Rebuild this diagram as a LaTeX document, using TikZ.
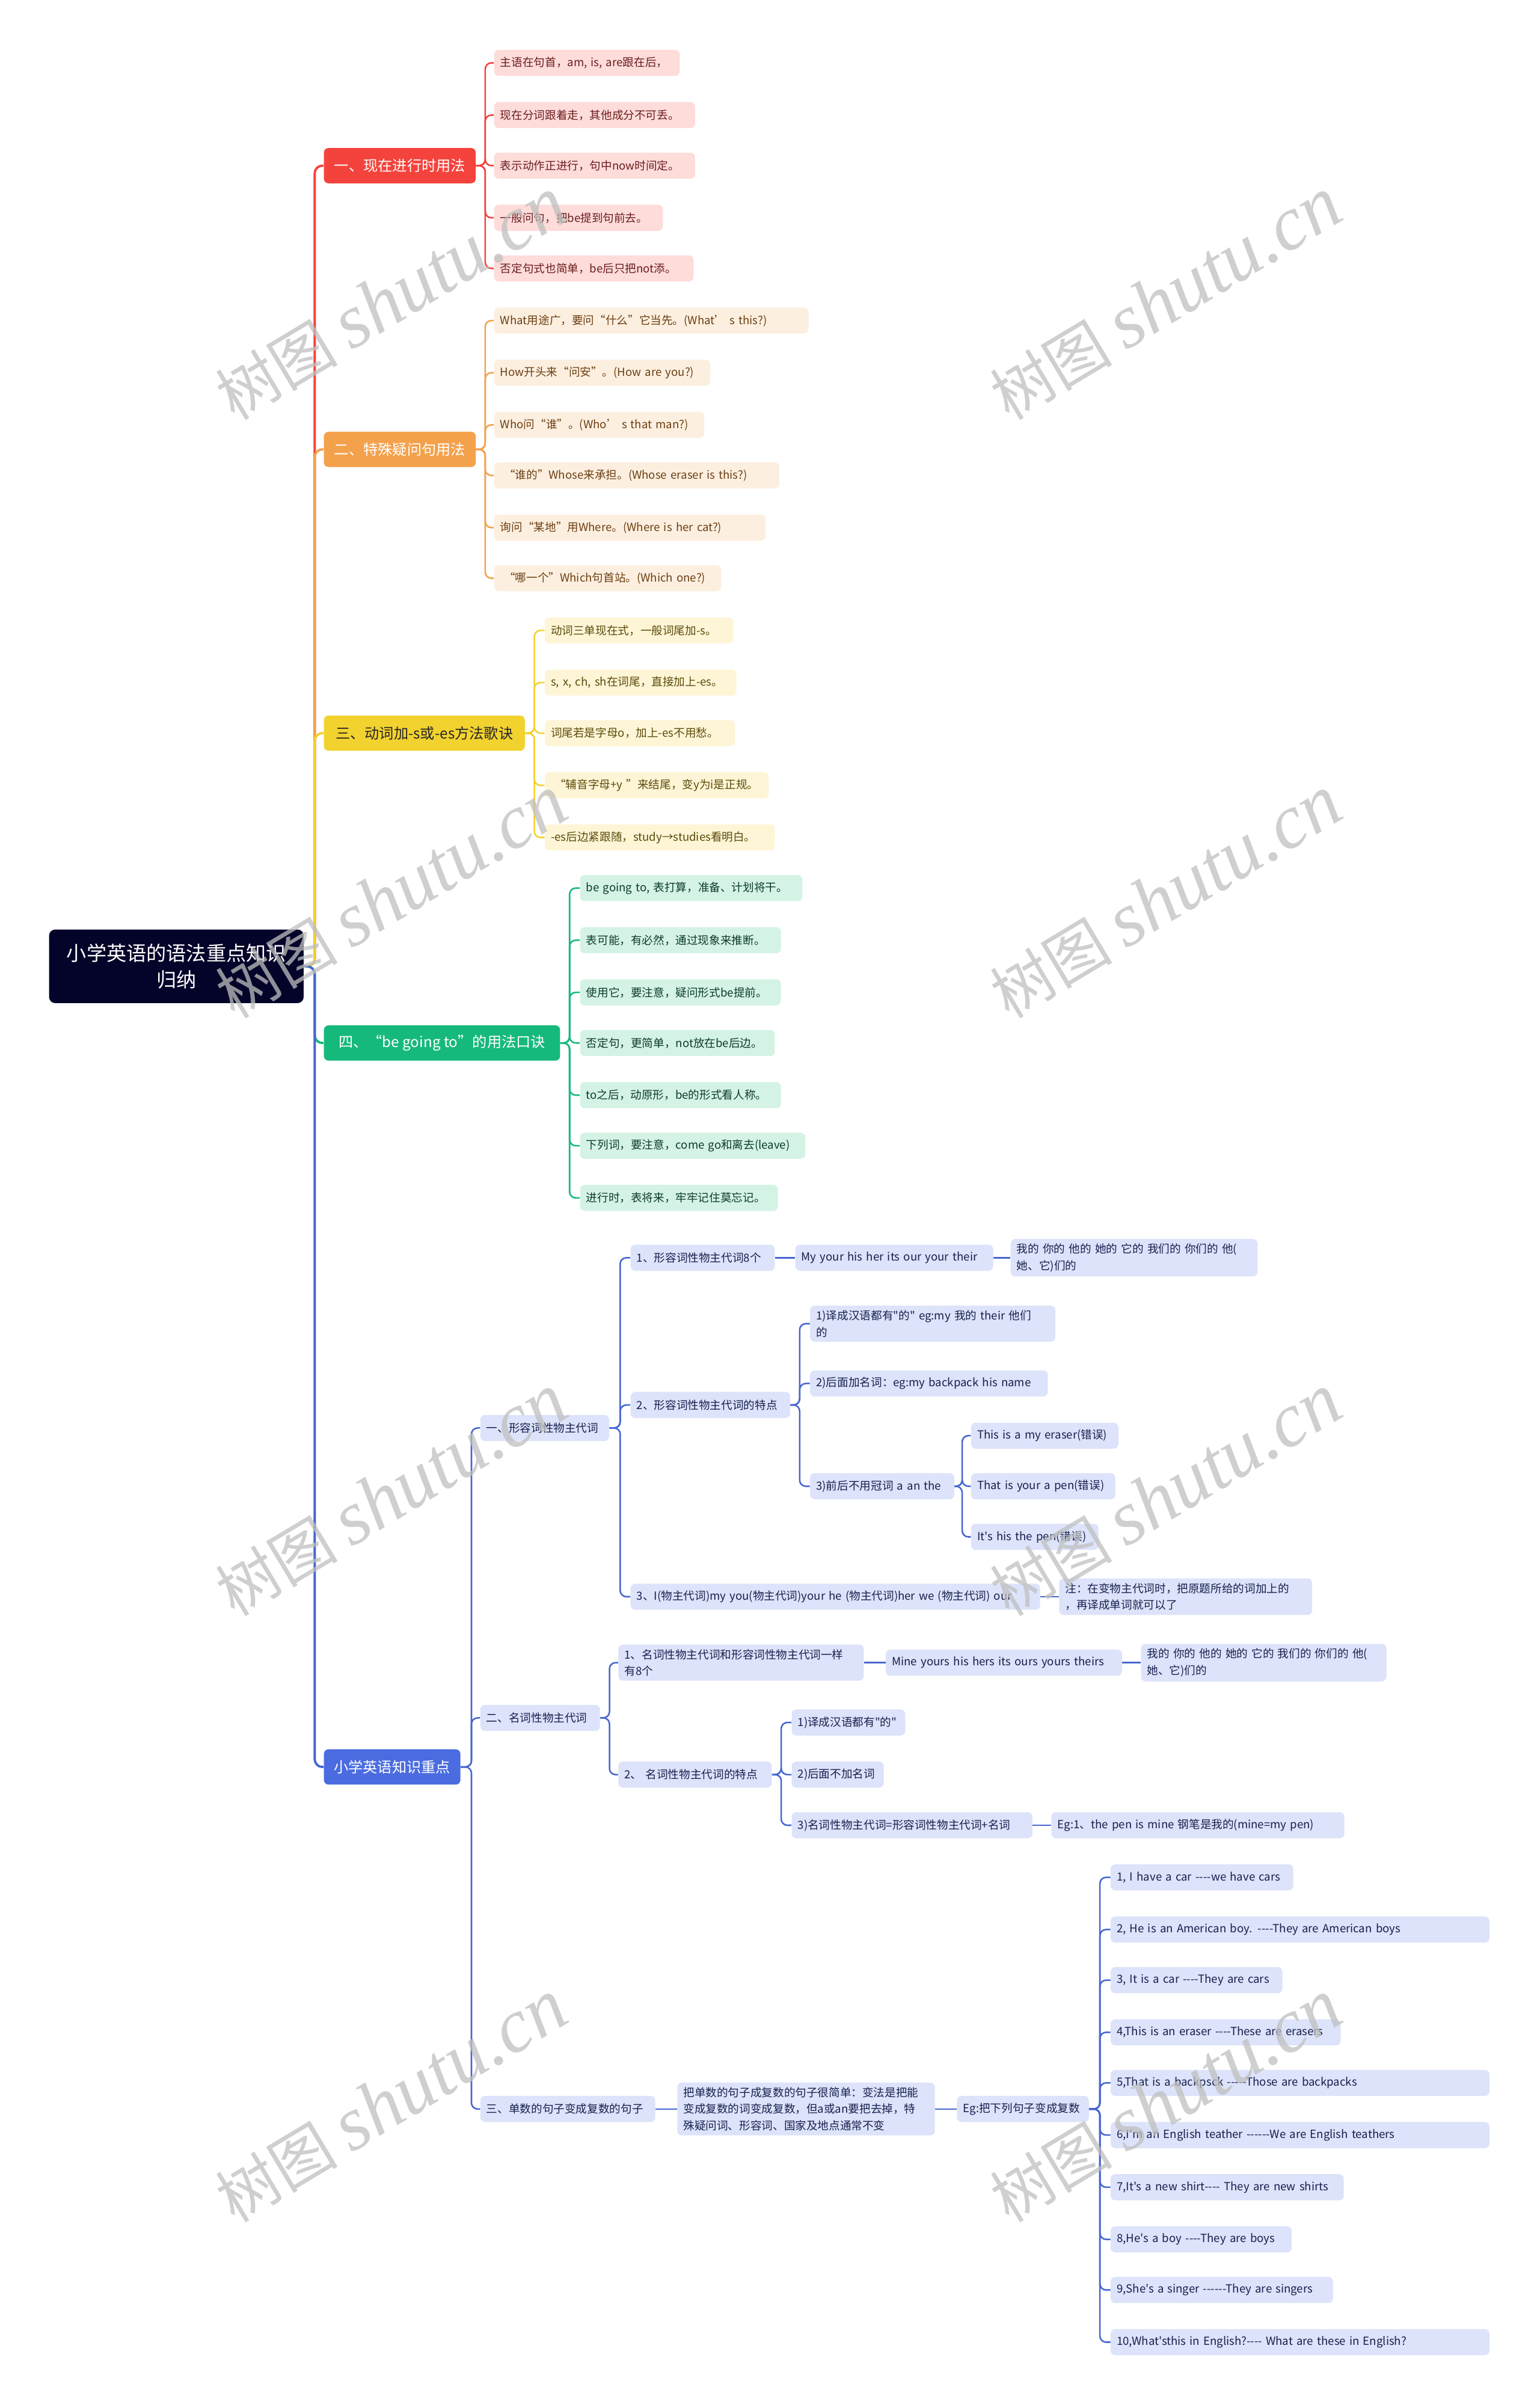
\documentclass[tikz,border=0pt]{standalone}
\usepackage{fontspec}
\setmainfont{Noto Sans CJK SC}[Ligatures=TeXOff]
\newfontfamily\wmlatin{Liberation Serif}
\usetikzlibrary{positioning}

\definecolor{rootfill}{HTML}{04042A}
\definecolor{redmain}{HTML}{F4433C}
\definecolor{redfill}{HTML}{FDDCDA}
\definecolor{redtext}{HTML}{6B1D1D}
\definecolor{orgmain}{HTML}{F4A14C}
\definecolor{orgfill}{HTML}{FDEFE0}
\definecolor{orgtext}{HTML}{6B3F12}
\definecolor{ylwmain}{HTML}{F2D22E}
\definecolor{ylwfill}{HTML}{FDF5D6}
\definecolor{ylwtext}{HTML}{5C4A0A}
\definecolor{grnmain}{HTML}{16B97C}
\definecolor{grnfill}{HTML}{D4F3E5}
\definecolor{grntext}{HTML}{0D3B2A}
\definecolor{blumain}{HTML}{4B6CE0}
\definecolor{bluline}{HTML}{4766CF}
\definecolor{blufill}{HTML}{DCE3FA}
\definecolor{blutext}{HTML}{18204D}

\begin{document}
\begin{tikzpicture}[x=1pt, y=-1pt,
    mainbox/.style={rounded corners=3pt, anchor=west, minimum height=23pt, inner xsep=5pt, font=\fontsize{9.5}{11}\selectfont},
    leaf/.style={rounded corners=3pt, anchor=west, align=left, minimum height=17pt, inner xsep=4pt, inner ysep=3pt, font=\fontsize{7.3}{10.8}\selectfont},
    redleaf/.style={leaf, fill=redfill, text=redtext},
    orgleaf/.style={leaf, fill=orgfill, text=orgtext},
    ylwleaf/.style={leaf, fill=ylwfill, text=ylwtext},
    grnleaf/.style={leaf, fill=grnfill, text=grntext},
    bluleaf/.style={leaf, fill=blufill, text=blutext},
    trunk/.style={line width=1.5pt, rounded corners=5pt},
    twig/.style={line width=1pt, rounded corners=4pt},
    bluetwig/.style={twig, draw=bluline},
    wm/.style={text=black!25, opacity=0.75, rotate=31, font=\fontsize{40}{40}\selectfont}]

    \fill[white] (0,0) rectangle (1004,1568);
    \useasboundingbox (0,0) rectangle (1004,1568);

    % Root
    \node[fill=rootfill, text=white, rounded corners=4pt, minimum width=166pt, minimum height=48pt, align=center, font=\fontsize{13}{17}\selectfont] (root) at (115,630) {小学英语的语法重点知识\\归纳};

    % Main branches
    \node[mainbox, fill=redmain, text=white, minimum width=99pt] (m1) at (211,108) {一、现在进行时用法};
    \node[mainbox, fill=orgmain, text=white, minimum width=99pt] (m2) at (211,293) {二、特殊疑问句用法};
    \node[mainbox, fill=ylwmain, text=black!85, minimum width=131pt] (m3) at (211,478) {三、动词加-s或-es方法歌诀};
    \node[mainbox, fill=grnmain, text=white, minimum width=154pt] (m4) at (211,680) {四、“be going to”的用法口诀};
    \node[mainbox, fill=blumain, text=white, minimum width=89pt] (m5) at (211,1152) {小学英语知识重点};
    \foreach \m/\c in {m1/redmain, m2/orgmain, m3/ylwmain, m4/grnmain, m5/bluline}
        \draw[trunk, draw=\c] (root.east) -- ++(7,0) |- (\m.west);

    % Present continuous
    \foreach \t/\y/\w [count=\i] in {
        {主语在句首，am, is, are跟在后，}/41/113,
        {现在分词跟着走，其他成分不可丢。}/75/123,
        {表示动作正进行，句中now时间定。}/108/123,
        {一般问句，把be提到句前去。}/142/102,
        {否定句式也简单，be后只把not添。}/175/122}
    {
        \node[redleaf, text width=\w pt] (r\i) at (322,\y) {\mbox{\t}};
        \draw[twig, draw=redmain] (m1.east) -- ++(6,0) |- (r\i.west);
    }

    % Special questions
    \foreach \t/\y/\w [count=\i] in {
        {What用途广，要问“什么”它当先。(What’ s this?)}/209/197,
        {How开头来“问安”。(How are you?)}/243/133,
        {Who问“谁”。(Who’ s that man?)}/277/129,
        { “谁的”Whose来承担。(Whose eraser is this?)}/310/178,
        {询问“某地”用Where。(Where is her cat?)}/344/169,
        { “哪一个”Which句首站。(Which one?)}/377/140}
    {
        \node[orgleaf, text width=\w pt] (o\i) at (322,\y) {\mbox{\t}};
        \draw[twig, draw=orgmain] (m2.east) -- ++(6,0) |- (o\i.west);
    }

    % -s / -es rules
    \foreach \t/\y/\w [count=\i] in {
        {动词三单现在式，一般词尾加-s。}/411/115,
        {s, x, ch, sh在词尾，直接加上-es。}/445/117,
        {词尾若是字母o，加上-es不用愁。}/478/116,
        { “辅音字母+y ”来结尾，变y为i是正规。}/512/138,
        {-es后边紧跟随，study→studies看明白。}/546/142}
    {
        \node[ylwleaf, text width=\w pt] (y\i) at (355,\y) {\mbox{\t}};
        \draw[twig, draw=ylwmain] (m3.east) -- ++(6,0) |- (y\i.west);
    }

    % be going to
    \foreach \t/\y/\w [count=\i] in {
        {be going to, 表打算，准备、计划将干。}/579/137,
        {表可能，有必然，通过现象来推断。}/613/123,
        {使用它，要注意，疑问形式be提前。}/647/123,
        {否定句，更简单，not放在be后边。}/680/119,
        {to之后，动原形，be的形式看人称。}/714/123,
        {下列词，要注意，come go和离去(leave)}/747/139,
        {进行时，表将来，牢牢记住莫忘记。}/781/121}
    {
        \node[grnleaf, text width=\w pt] (g\i) at (378,\y) {\mbox{\t}};
        \draw[twig, draw=grnmain] (m4.east) -- ++(6,0) |- (g\i.west);
    }

    % Key points
    \node[bluleaf, text width=76pt] (b1) at (313,931) {一、形容词性物主代词};
    \node[bluleaf, text width=70pt] (b2) at (313,1120) {二、名词性物主代词};
    \node[bluleaf, text width=106pt] (b3) at (313,1375) {三、单数的句子变成复数的句子};
    \foreach \n in {b1,b2,b3}
        \draw[bluetwig] (m5.east) -- ++(7,0) |- (\n.west);

    % Adjective possessives
    \node[bluleaf, text width=86pt] (b11) at (411,820) {1、形容词性物主代词8个};
    \node[bluleaf, text width=96pt] (b12) at (411,916) {2、形容词性物主代词的特点};
    \node[bluleaf, text width=259pt] (b13) at (411,1041) {3、I(物主代词)my you(物主代词)your he (物主代词)her we (物主代词) our};
    \foreach \n in {b11,b12,b13}
        \draw[bluetwig] (b1.east) -- ++(7,0) |- (\n.west);

    \node[bluleaf, text width=121pt, right=13pt of b11] (b111) {My your his her its our your their};
    \node[bluleaf, text width=153pt, right=11pt of b111] (b1111) {\mbox{我的 你的 他的 她的 它的 我们的 你们的 他(}\\\mbox{她、它)们的}};
    \draw[bluetwig] (b11) -- (b111);
    \draw[bluetwig] (b111) -- (b1111);

    \node[bluleaf, text width=152pt] (b121) at (528,863) {\mbox{1)译成汉语都有"的" eg:my 我的 their 他们}\\\mbox{的}};
    \node[bluleaf, text width=147pt] (b122) at (528,902) {\mbox{2)后面加名词：eg:my backpack his name}};
    \node[bluleaf, text width=86pt] (b123) at (528,969) {\mbox{3)前后不用冠词 a an the}};
    \foreach \n in {b121,b122,b123}
        \draw[bluetwig] (b12.east) -- ++(6,0) |- (\n.west);

    \foreach \t/\y/\w [count=\i] in {
        {This is a my eraser(错误)}/936/88,
        {That is your a pen(错误)}/969/86,
        {It's his the pen(错误)}/1002/75}
    {
        \node[bluleaf, text width=\w pt] (b123\i) at (633,\y) {\mbox{\t}};
        \draw[bluetwig] (b123.east) -- ++(5,0) |- (b123\i.west);
    }

    \node[bluleaf, text width=157pt, right=12pt of b13] (b131) {\mbox{注：在变物主代词时，把原题所给的词加上的}\\\mbox{，再译成单词就可以了}};
    \draw[bluetwig] (b13) -- (b131);

    % Noun possessives
    \node[bluleaf, text width=152pt] (b21) at (403,1084) {\mbox{1、名词性物主代词和形容词性物主代词一样}\\\mbox{有8个}};
    \node[bluleaf, text width=92pt] (b22) at (403,1157) {\mbox{2、 名词性物主代词的特点}};
    \foreach \n in {b21,b22}
        \draw[bluetwig] (b2.east) -- ++(6,0) |- (\n.west);

    \node[bluleaf, text width=146pt, right=14pt of b21] (b211) {Mine yours his hers its ours yours theirs};
    \node[bluleaf, text width=152pt, right=12pt of b211] (b2111) {\mbox{我的 你的 他的 她的 它的 我们的 你们的 他(}\\\mbox{她、它)们的}};
    \draw[bluetwig] (b21) -- (b211);
    \draw[bluetwig] (b211) -- (b2111);

    \foreach \t/\y/\w [count=\i] in {
        {1)译成汉语都有"的"}/1123/66,
        {2)后面不加名词}/1157/52,
        {3)名词性物主代词=形容词性物主代词+名词}/1190/149}
    {
        \node[bluleaf, text width=\w pt] (b22\i) at (516,\y) {\mbox{\t}};
        \draw[bluetwig] (b22.east) -- ++(6,0) |- (b22\i.west);
    }
    \node[bluleaf, text width=183pt, right=12pt of b223] (b2231) {\mbox{Eg:1、the pen is mine 钢笔是我的(mine=my pen)}};
    \draw[bluetwig] (b223) -- (b2231);

    % Singular to plural
    \node[bluleaf, text width=160pt, right=14pt of b3] (b31) {\mbox{把单数的句子成复数的句子很简单：变法是把能}\\\mbox{变成复数的词变成复数，但a或an要把去掉，特}\\\mbox{殊疑问词、形容词、国家及地点通常不变}};
    \node[bluleaf, text width=78pt, right=14pt of b31] (b311) {\mbox{Eg:把下列句子变成复数}};
    \draw[bluetwig] (b3) -- (b31);
    \draw[bluetwig] (b31) -- (b311);

    \foreach \t/\y/\w [count=\i] in {
        {1, I have a car ----we have cars}/1224/111,
        {2, He is an American boy. ----They are American boys}/1258/239,
        {3, It is a car ----They are cars}/1291/104,
        {4,This is an eraser ----These are erasers}/1325/142,
        {5,That is a backpsck -----Those are backpacks}/1358/239,
        {6,I'm an English teather ------We are English teathers}/1392/239,
        {7,It's a new shirt---- They are new shirts}/1426/144,
        {8,He's a boy ----They are boys}/1460/110,
        {9,She's a singer ------They are singers}/1493/137,
        {10,What'sthis in English?---- What are these in English?}/1527/239}
    {
        \node[bluleaf, text width=\w pt] (s\i) at (724,\y) {\mbox{\t}};
        \draw[bluetwig] (b311.east) -- ++(7,0) |- (s\i.west);
    }

    % Watermarks
    \foreach \x/\y in {255/195, 760/195, 255/585, 760/585, 255/975, 760/975, 255/1370, 760/1370}
        \node[wm] at (\x,\y) {树图 {\wmlatin\itshape\fontsize{50}{50}\selectfont shutu.cn}};
\end{tikzpicture}
\end{document}
